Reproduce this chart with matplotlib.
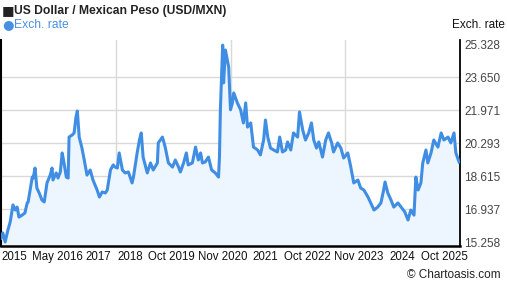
import matplotlib
matplotlib.use('Agg')
import matplotlib.pyplot as plt

plt.rcParams['font.family'] = ['Liberation Sans', 'DejaVu Sans']

# decimal year, USD/MXN exchange rate
years = [2015.40, 2015.44, 2015.49, 2015.55, 2015.60, 2015.66, 2015.71, 2015.75,
         2015.79, 2015.86, 2015.92, 2015.97, 2015.99, 2016.08, 2016.10, 2016.14,
         2016.18, 2016.23, 2016.29, 2016.34, 2016.40, 2016.47, 2016.51, 2016.53,
         2016.60, 2016.64, 2016.69, 2016.73, 2016.77, 2016.82, 2016.86, 2016.88,
         2016.95, 2016.99, 2017.03, 2017.06, 2017.10, 2017.16, 2017.21, 2017.27,
         2017.34, 2017.40, 2017.49, 2017.54, 2017.60, 2017.67, 2017.71, 2017.78,
         2017.84, 2017.88, 2017.93, 2017.97, 2018.04, 2018.10, 2018.17, 2018.25,
         2018.28, 2018.36, 2018.41, 2018.45, 2018.49, 2018.58, 2018.65, 2018.71,
         2018.80, 2018.82, 2018.91, 2018.97, 2019.04, 2019.13, 2019.19, 2019.26,
         2019.30, 2019.37, 2019.43, 2019.47, 2019.56, 2019.63, 2019.69, 2019.74,
         2019.78, 2019.84, 2019.91, 2019.98, 2020.06, 2020.13, 2020.15, 2020.17,
         2020.22, 2020.24, 2020.28, 2020.32, 2020.35, 2020.39, 2020.43, 2020.46,
         2020.54, 2020.61, 2020.67, 2020.72, 2020.76, 2020.83, 2020.89, 2020.98,
         2021.04, 2021.11, 2021.15, 2021.20, 2021.26, 2021.33, 2021.41, 2021.46,
         2021.52, 2021.59, 2021.63, 2021.70, 2021.76, 2021.85, 2021.89, 2021.96,
         2022.02, 2022.09, 2022.15, 2022.20, 2022.26, 2022.31, 2022.39, 2022.46,
         2022.52, 2022.59, 2022.63, 2022.72, 2022.79, 2022.85, 2022.94, 2023.00,
         2023.07, 2023.16, 2023.22, 2023.29, 2023.38, 2023.44, 2023.51, 2023.59,
         2023.66, 2023.72, 2023.75, 2023.81, 2023.88, 2023.94, 2024.03, 2024.10,
         2024.18, 2024.25, 2024.31, 2024.38, 2024.42, 2024.47, 2024.53, 2024.57,
         2024.64, 2024.68, 2024.75, 2024.81, 2024.90, 2024.97, 2025.03, 2025.12,
         2025.18, 2025.25, 2025.29, 2025.36]
rates = [15.45, 15.72, 15.26, 15.87, 16.28, 17.15, 16.89, 17.04,
         16.53, 16.63, 16.74, 17.25, 17.30, 18.57, 18.52, 19.03,
         18.01, 17.76, 17.40, 17.30, 18.27, 18.67, 19.03, 18.42,
         18.78, 18.52, 18.83, 19.80, 19.29, 18.57, 18.52, 20.61,
         20.72, 20.82, 21.63, 21.94, 20.61, 20.05, 19.44, 18.67,
         18.93, 18.42, 17.91, 17.55, 17.81, 17.76, 17.91, 18.93,
         19.19, 19.08, 19.03, 19.80, 18.93, 18.78, 18.83, 18.27,
         18.57, 19.80, 20.46, 20.82, 19.59, 18.78, 19.29, 18.93,
         19.29, 20.31, 20.61, 20.10, 19.29, 19.08, 19.44, 19.08,
         18.83, 19.29, 19.80, 19.19, 19.29, 20.10, 19.44, 19.80,
         19.29, 19.34, 19.59, 18.93, 18.78, 18.57, 19.59, 22.00,
         25.30, 23.37, 25.05, 24.54, 24.18, 22.00, 22.35, 22.86,
         22.35, 22.00, 21.33, 22.35, 21.12, 21.33, 20.10, 19.95,
         19.70, 20.46, 21.48, 20.61, 20.05, 19.95, 19.85, 20.61,
         19.85, 19.95, 20.36, 19.95, 20.82, 20.61, 21.89, 20.97,
         20.46, 20.82, 21.33, 20.46, 20.05, 20.36, 19.59, 20.46,
         20.82, 20.31, 19.85, 20.31, 20.05, 19.54, 19.80, 19.15,
         18.27, 18.42, 18.01, 17.91, 17.55, 17.25, 16.89, 17.04,
         17.25, 17.91, 18.32, 17.76, 17.40, 17.04, 17.25, 17.04,
         16.79, 16.38, 16.89, 16.63, 18.57, 17.91, 18.27, 19.29,
         19.95, 19.29, 19.80, 20.46, 20.10, 20.82, 20.46, 20.61,
         20.31, 20.82, 19.80, 19.34]

y_ticks = [15.258, 16.937, 18.615, 20.293, 21.971, 23.650, 25.328]
x_labels = ['2015', 'May 2016', '2017', '2018', 'Oct 2019', 'Nov 2020',
            '2021', 'Oct 2022', 'Nov 2023', '2024', 'Oct 2025']
x_label_pos = [2015.40, 2016.62, 2017.51, 2018.21, 2019.10, 2020.22,
               2021.15, 2022.07, 2023.18, 2024.12, 2025.05]

line_color = '#3f8ee3'
fill_color = '#edf6ff'

fig = plt.figure(figsize=(5.07, 2.88), dpi=100)
ax = fig.add_axes([1 / 507, 1 - 245.7 / 288, 459 / 507, 205.7 / 288])

x_min, x_max = 2015.40, 2025.38
y_min, y_max = 15.07, 25.56

ax.fill_between(years, rates, y_min, color=fill_color, lw=0, zorder=1)
ax.plot(years, rates, color=line_color, lw=2.2, zorder=3)

# grid
for t in y_ticks[1:-1]:
    ax.axhline(t, color='#d9d9d9', lw=1, zorder=0)
for f in (0.25, 0.5, 0.75):
    ax.axvline(x_min + f * (x_max - x_min), color='#d9d9d9', lw=1, zorder=0)

ax.spines['top'].set_visible(False)
ax.spines['left'].set_linewidth(1.5)
ax.spines['bottom'].set_linewidth(1.8)
ax.spines['right'].set_linewidth(1.3)
for s in ('left', 'bottom', 'right'):
    ax.spines[s].set_color('black')

ax.yaxis.tick_right()
ax.set_yticks(y_ticks)
ax.set_yticklabels(['%.3f' % t for t in y_ticks])
ax.tick_params(axis='y', length=0, pad=3, labelsize=8.5, labelcolor='#444444')
ax.set_xticks(x_label_pos)
ax.set_xticklabels(x_labels)
ax.tick_params(axis='x', length=0, pad=4, labelsize=8.3, labelcolor='#111111')
ax.get_xticklabels()[0].set_horizontalalignment('left')
ax.set_xlim(x_min, x_max)
ax.set_ylim(y_min, y_max)

fig.text(452 / 507, 1 - 25 / 288, 'Exch. rate', fontsize=8.5, va='center',
         ha='left', color='#111111')
fig.text(2 / 507, 1 - 11 / 288, '\u25a0', fontsize=9.5, va='center',
         ha='left', color='#222222', family=['DejaVu Sans'])
fig.text(14 / 507, 1 - 11 / 288, 'US Dollar / Mexican Peso (USD/MXN)',
         fontsize=8.7, fontweight='bold', va='center', ha='left',
         color='#222222')
fig.text(2 / 507, 1 - 25 / 288, '\u25cf', fontsize=9.5, va='center',
         ha='left', color='#4a90e2', family=['DejaVu Sans'])
fig.text(14 / 507, 1 - 25 / 288, 'Exch. rate', fontsize=8.7, va='center',
         ha='left', color='#4a90e2')
fig.text(501 / 507, 1 - 275 / 288, '\u00a9 Chartoasis.com', fontsize=8.5,
         va='center', ha='right', color='#222222')

fig.savefig('out.png', dpi=100)
